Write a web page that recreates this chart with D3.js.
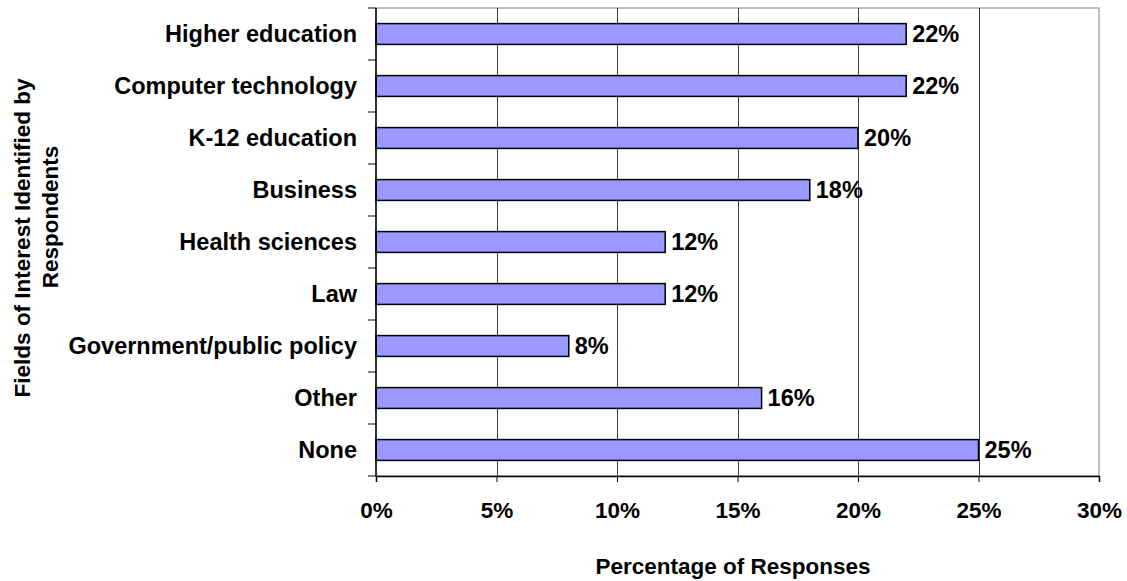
<!DOCTYPE html>
<html>
<head>
<meta charset="utf-8">
<script src="https://cdn.jsdelivr.net/npm/d3@7"></script>
<style>
  body { margin: 0; background: #fff; }
  text { font-family: Arial, "Liberation Sans", sans-serif; font-weight: bold; fill: #000; }
</style>
</head>
<body>
<div id="chart"></div>
<script>
// data
const fields = ["Higher education", "Computer technology", "K-12 education", "Business",
  "Health sciences", "Law", "Government/public policy", "Other", "None"];
const percents = [22, 22, 20, 18, 12, 12, 8, 16, 25];
const xTicks = [0, 5, 10, 15, 20, 25, 30];

const canvWidth = 1127, canvHeight = 581;
const margin = { top: 8, right: 28, bottom: 105, left: 376 };
const width = canvWidth - margin.left - margin.right;
const height = canvHeight - margin.top - margin.bottom;

const svg = d3.select("#chart").append("svg")
  .attr("width", canvWidth)
  .attr("height", canvHeight);

const g = svg.append("g")
  .attr("transform", `translate(${margin.left},${margin.top})`);

const xScale = d3.scaleLinear().domain([0, 30]).range([0, width]);
const yScale = d3.scaleBand().domain(fields).range([0, height])
  .paddingInner(0.6).paddingOuter(0.3);

// plot frame (grey top / right)
g.append("rect")
  .attr("x", 0).attr("y", 0)
  .attr("width", width).attr("height", height)
  .style("fill", "none")
  .style("stroke", "#808080")
  .style("stroke-width", 1);

// vertical gridlines
g.append("g")
  .attr("class", "grid")
  .selectAll("line")
  .data(xTicks.slice(1, -1))
  .enter()
  .append("line")
  .attr("x1", d => Math.round(xScale(d)) + 0.5)
  .attr("x2", d => Math.round(xScale(d)) + 0.5)
  .attr("y1", 0)
  .attr("y2", height)
  .style("stroke", "#404040")
  .style("stroke-width", 1);

// bars
g.append("g")
  .selectAll("rect.bar")
  .data(fields)
  .enter()
  .append("rect")
  .attr("class", "bar")
  .attr("x", 0)
  .attr("y", d => yScale(d))
  .attr("width", (d, i) => xScale(percents[i]))
  .attr("height", yScale.bandwidth())
  .style("fill", "#9999FF")
  .style("stroke", "#000")
  .style("stroke-width", 1.5);

// value labels
g.append("g")
  .selectAll("text")
  .data(fields)
  .enter()
  .append("text")
  .attr("x", (d, i) => xScale(percents[i]) + 6)
  .attr("y", d => yScale(d) + yScale.bandwidth() / 2)
  .attr("dy", "0.36em")
  .attr("font-size", "23.5px")
  .text((d, i) => percents[i] + "%");

// x axis
const xAxis = d3.axisBottom(xScale)
  .tickValues(xTicks)
  .tickSize(6)
  .tickPadding(20)
  .tickFormat(d => d + "%");

const xAxisG = g.append("g")
  .attr("transform", `translate(0,${height})`)
  .call(xAxis);
xAxisG.select(".domain").style("stroke", "#000").style("stroke-width", 1.5);
xAxisG.selectAll(".tick line").style("stroke", "#000");
xAxisG.selectAll("text")
  .attr("font-family", null)
  .attr("font-size", "22.5px")
  .style("fill", "#000");

// y axis: ticks at category boundaries
const yAxisG = g.append("g");
yAxisG.append("line")
  .attr("x1", 0).attr("x2", 0)
  .attr("y1", 0).attr("y2", height)
  .style("stroke", "#000").style("stroke-width", 1.5);
yAxisG.selectAll("line.tick")
  .data(d3.range(fields.length + 1))
  .enter()
  .append("line")
  .attr("class", "tick")
  .attr("x1", -8).attr("x2", 0)
  .attr("y1", i => yScale.step() * i)
  .attr("y2", i => yScale.step() * i)
  .style("stroke", "#000").style("stroke-width", 1);

// category labels
g.append("g")
  .selectAll("text")
  .data(fields)
  .enter()
  .append("text")
  .attr("x", -19)
  .attr("y", d => yScale(d) + yScale.bandwidth() / 2)
  .attr("dy", "0.36em")
  .attr("font-size", "23.5px")
  .style("text-anchor", "end")
  .text(d => d);

// axis titles
svg.append("text")
  .attr("x", 733)
  .attr("y", 574)
  .attr("font-size", "22.5px")
  .style("text-anchor", "middle")
  .text("Percentage of Responses");

svg.append("text")
  .attr("transform", "translate(30,238) rotate(-90)")
  .attr("font-size", "22.5px")
  .style("text-anchor", "middle")
  .text("Fields of Interest Identified by");

svg.append("text")
  .attr("transform", "translate(58,217) rotate(-90)")
  .attr("font-size", "22.5px")
  .style("text-anchor", "middle")
  .text("Respondents");
</script>
</body>
</html>
